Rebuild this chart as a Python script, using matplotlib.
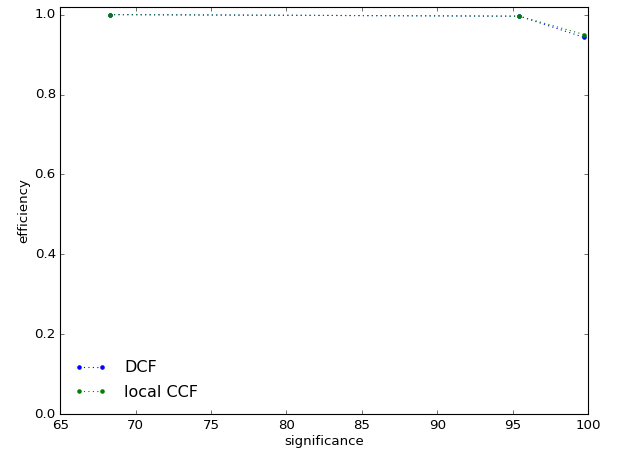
import matplotlib
matplotlib.use('Agg')
import matplotlib.pyplot as plt

# significance levels (1, 2, 3 sigma in percent)
significance = [68.27, 95.45, 99.73]
eff_dcf = [1.0, 0.996, 0.943]
eff_ccf = [1.0, 0.996, 0.950]

plt.style.use('classic')
plt.rcParams['font.family'] = ['DejaVu Sans']
fig = plt.figure(figsize=(621 / 80, 452 / 80), dpi=80, facecolor='white')
ax = fig.add_axes([0.097, 0.0834, 0.85, 0.902])

ax.plot(significance, eff_dcf, 'b.:', markersize=7, label='DCF')
ax.plot(significance, eff_ccf, 'g.:', markersize=7, label='local CCF')

ax.set_xlim(65, 100)
ax.set_ylim(0.0, 1.02)
ax.set_xlabel('significance', fontsize=12, labelpad=3)
ax.set_ylabel('efficiency', fontsize=12, labelpad=4)
ax.tick_params(labelsize=12)
ax.legend(loc='lower left', frameon=False, numpoints=2, fontsize=14.4,
          handletextpad=1.1, labelspacing=0.6)

fig.savefig('out.png', dpi=80, facecolor='white')
